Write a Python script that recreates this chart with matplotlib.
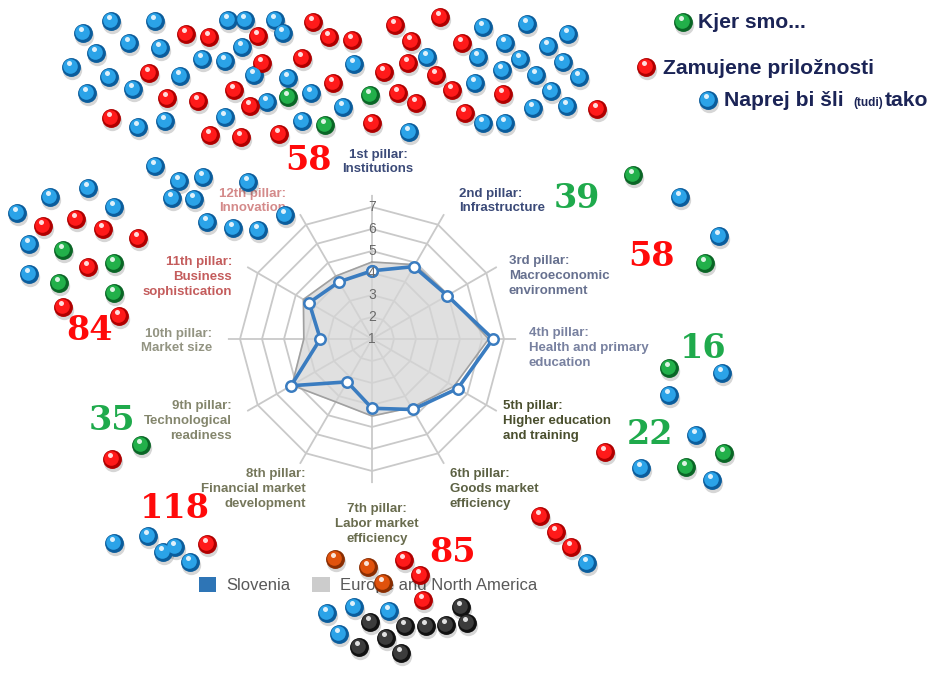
import numpy as np
import matplotlib
matplotlib.use('Agg')
import matplotlib.pyplot as plt
from matplotlib.patches import Patch

# --- radar data (GCI pillars, scale 1-7) ---
pillars = ['1st pillar:\nInstitutions', '2nd pillar:\nInfrastructure',
           '3rd pillar:\nMacroeconomic\nenvironment', '4th pillar:\nHealth and primary\neducation',
           '5th pillar:\nHigher education\nand training', '6th pillar:\nGoods market\nefficiency',
           '7th pillar:\nLabor market\nefficiency', '8th pillar:\nFinancial market\ndevelopment',
           '9th pillar:\nTechnological\nreadiness', '10th pillar:\nMarket size',
           '11th pillar:\nBusiness\nsophistication', '12th pillar:\nInnovation']
slovenia = [4.1, 4.8, 4.95, 6.5, 5.5, 4.7, 4.15, 3.25, 5.25, 3.35, 4.3, 4.0]
europe = [4.5, 4.9, 5.0, 6.3, 5.3, 4.6, 4.5, 4.3, 5.2, 4.1, 4.6, 4.3]
rings = [2, 3, 4, 5, 6, 7]

# --- ball positions (pixels) ---
blue_x = [83, 111, 155, 228, 245, 275, 483, 527, 568, 96, 129, 160, 283, 505, 548, 71, 202, 225, 242, 354,
          427, 478, 520, 563, 109, 180, 254, 288, 502, 536, 579, 87, 133, 267, 311, 343, 475, 551, 533, 567,
          138, 165, 225, 302, 409, 483, 505,
          155, 179, 203, 248, 172, 194, 207, 233, 258, 285, 50, 88, 17, 114, 29, 29,
          680, 719, 722, 669, 696, 641, 712, 587,
          114, 148, 163, 175, 190,
          327, 354, 389, 339]
blue_y = [33, 21, 21, 20, 20, 20, 27, 24, 34, 53, 43, 48, 33, 43, 46, 67, 59, 61, 47, 64,
          57, 57, 59, 62, 77, 76, 75, 78, 70, 75, 77, 93, 89, 102, 93, 107, 83, 91, 108, 106,
          127, 121, 117, 121, 132, 123, 123,
          166, 181, 177, 182, 198, 199, 222, 228, 230, 215, 197, 188, 213, 207, 244, 274,
          197, 236, 373, 395, 435, 468, 480, 563,
          543, 536, 552, 547, 562,
          613, 607, 611, 634]
red_x = [313, 395, 440, 186, 209, 258, 329, 352, 411, 462, 262, 302, 384, 408, 436, 149, 333, 167, 198, 234,
         250, 398, 416, 452, 503, 597, 111, 210, 241, 279, 372, 465,
         43, 76, 103, 138, 88, 63, 119,
         605, 112, 207, 540, 556, 571, 404, 420, 423]
red_y = [22, 25, 17, 34, 37, 36, 37, 40, 41, 43, 63, 58, 72, 63, 75, 73, 83, 98, 101, 90,
         106, 93, 103, 90, 94, 109, 118, 135, 137, 134, 123, 113,
         226, 219, 229, 238, 267, 307, 316,
         452, 459, 544, 516, 532, 547, 560, 575, 600]
green_x = [288, 370, 325, 63, 114, 59, 114, 141, 633, 705, 669, 724, 686]
green_y = [97, 95, 125, 250, 263, 283, 293, 445, 175, 263, 368, 453, 467]
orange_x = [335, 368, 383]
orange_y = [559, 567, 583]
black_x = [370, 386, 359, 401, 405, 426, 446, 467, 461]
black_y = [622, 638, 647, 653, 626, 626, 625, 623, 607]

# --- rank numbers ---
num_text = ['58', '39', '58', '84', '16', '35', '22', '118', '85']
num_x = [309, 577, 652, 90, 703, 112, 650, 175, 453]
num_y = [160, 198, 256, 330, 349, 421, 435, 508, 553]
num_col = ['r', 'g', 'r', 'r', 'g', 'g', 'g', 'r', 'r']

W, H = 937, 675
fig = plt.figure(figsize=(W / 100, H / 100), dpi=100)
fig.patch.set_facecolor('white')

# radar chart
cx, cy, ppu = 372, 339, 22.0
rmax = 7.55
rad = (rmax - 1) * ppu
ax = fig.add_axes([(cx - rad) / W, (H - cy - rad) / H, 2 * rad / W, 2 * rad / H], projection='polar')
ax.set_theta_zero_location('N')
ax.set_theta_direction(-1)
ax.set_ylim(1, rmax)
ax.grid(False)
ax.spines['polar'].set_visible(False)
ax.set_xticks([])
ax.set_yticks([])
ax.patch.set_alpha(0)

n = len(pillars)
theta = np.linspace(0, 2 * np.pi, n, endpoint=False)
tc = np.append(theta, theta[0])
gridc = '#c9c9c9'
for r in rings:
    ax.plot(tc, [r] * (n + 1), color=gridc, lw=1.3, zorder=1)
for t in theta:
    ax.plot([t, t], [1, rmax], color=gridc, lw=1.3, zorder=1)

eu = np.append(europe, europe[0])
sl = np.append(slovenia, slovenia[0])
ax.fill(tc, eu, color='#d6d6d6', alpha=0.75, zorder=2)
ax.plot(tc, eu, color='#a0a0a0', lw=1.2, zorder=2)
ax.plot(tc, sl, color='#3a7cc0', lw=2.6, zorder=3, marker='o', ms=7.5,
        mfc='white', mec='#3a7cc0', mew=1.8)
for r in [1] + rings:
    ax.text(0, r, str(r), ha='center', va='center', fontsize=10, color='#6a6a6a', zorder=4,
            family='Liberation Sans')

ax.legend(handles=[Patch(facecolor='#2e75b6'), Patch(facecolor='#cccccc')],
          labels=['Slovenia', 'Europe and North America'], ncol=2, frameon=False,
          handlelength=1.05, handleheight=1.05, columnspacing=1.3, handletextpad=0.6,
          labelcolor='#595959', prop={'family': 'Liberation Sans', 'size': 12},
          loc='center', bbox_to_anchor=(368 / W, 1 - 585 / H), bbox_transform=fig.transFigure)

# overlay for labels and balls
ov = fig.add_axes([0, 0, 1, 1], zorder=5)
ov.set_xlim(0, W)
ov.set_ylim(H, 0)
ov.axis('off')
ov.patch.set_alpha(0)

label_pos = [(378, 162, 'center'), (459, 201, 'left'), (509, 276, 'left'), (529, 348, 'left'),
             (503, 421, 'left'), (450, 489, 'left'), (377, 524, 'center'), (306, 489, 'right'),
             (232, 421, 'right'), (212, 341, 'right'), (232, 277, 'right'), (219, 201, 'left')]
label_col = ['#3b4a78', '#3b4a78', '#66708f', '#7881a0', '#4a4f2e', '#5c6143', '#696c4e', '#75775b',
             '#84866d', '#939482', '#c45c5c', '#d48a8a']
for lab, (x, y, ha), c in zip(pillars, label_pos, label_col):
    ov.text(x, y, lab, ha=ha, va='center', multialignment=ha, fontsize=9.5, fontweight='bold',
            color=c, family='Liberation Sans', linespacing=1.3, zorder=3)

for t, x, y, c in zip(num_text, num_x, num_y, num_col):
    ov.text(x, y, t, ha='center', va='center', fontsize=24, fontweight='bold',
            color='#ff0a0a' if c == 'r' else '#1faa4c', family='DejaVu Serif', zorder=4)


def balls(xs, ys, base, dark, s=185):
    xs = np.asarray(xs, float)
    ys = np.asarray(ys, float)
    ov.scatter(xs + 1.5, ys + 3, s=s * 1.05, color='black', alpha=0.16, lw=0, zorder=6)
    ov.scatter(xs, ys, s=s, color=dark, lw=0, zorder=7)
    ov.scatter(xs - 0.7, ys - 1.3, s=s * 0.6, color=base, lw=0, zorder=8)
    ov.scatter(xs - 2.2, ys - 4.2, s=s * 0.07, color='white', alpha=0.85, lw=0, zorder=9)


balls(blue_x, blue_y, '#2ba3e8', '#0b5d9c')
balls(red_x, red_y, '#ff1a1a', '#b00000')
balls(green_x, green_y, '#22b04a', '#0a6626')
balls(orange_x, orange_y, '#e0520c', '#8a2e02')
balls(black_x, black_y, '#3c3c3c', '#111111')

# key in top right
navy = '#1b2456'
balls([683], [22], '#22b04a', '#0a6626')
balls([646], [67], '#ff1a1a', '#b00000')
balls([708], [100], '#2ba3e8', '#0b5d9c')
kw = dict(va='center', ha='left', fontweight='bold', color=navy, family='Liberation Sans', zorder=10)
ov.text(698, 22, 'Kjer smo...', fontsize=15.2, **kw)
ov.text(663, 68, 'Zamujene priložnosti', fontsize=15.2, **kw)
ov.text(724, 101, 'Naprej bi šli', fontsize=15.2, **kw)
ov.text(853, 103, '(tudi)', fontsize=8.5, **kw)
ov.text(885, 101, 'tako', fontsize=15.2, **kw)

fig.savefig('out.png', dpi=100, facecolor='white')
